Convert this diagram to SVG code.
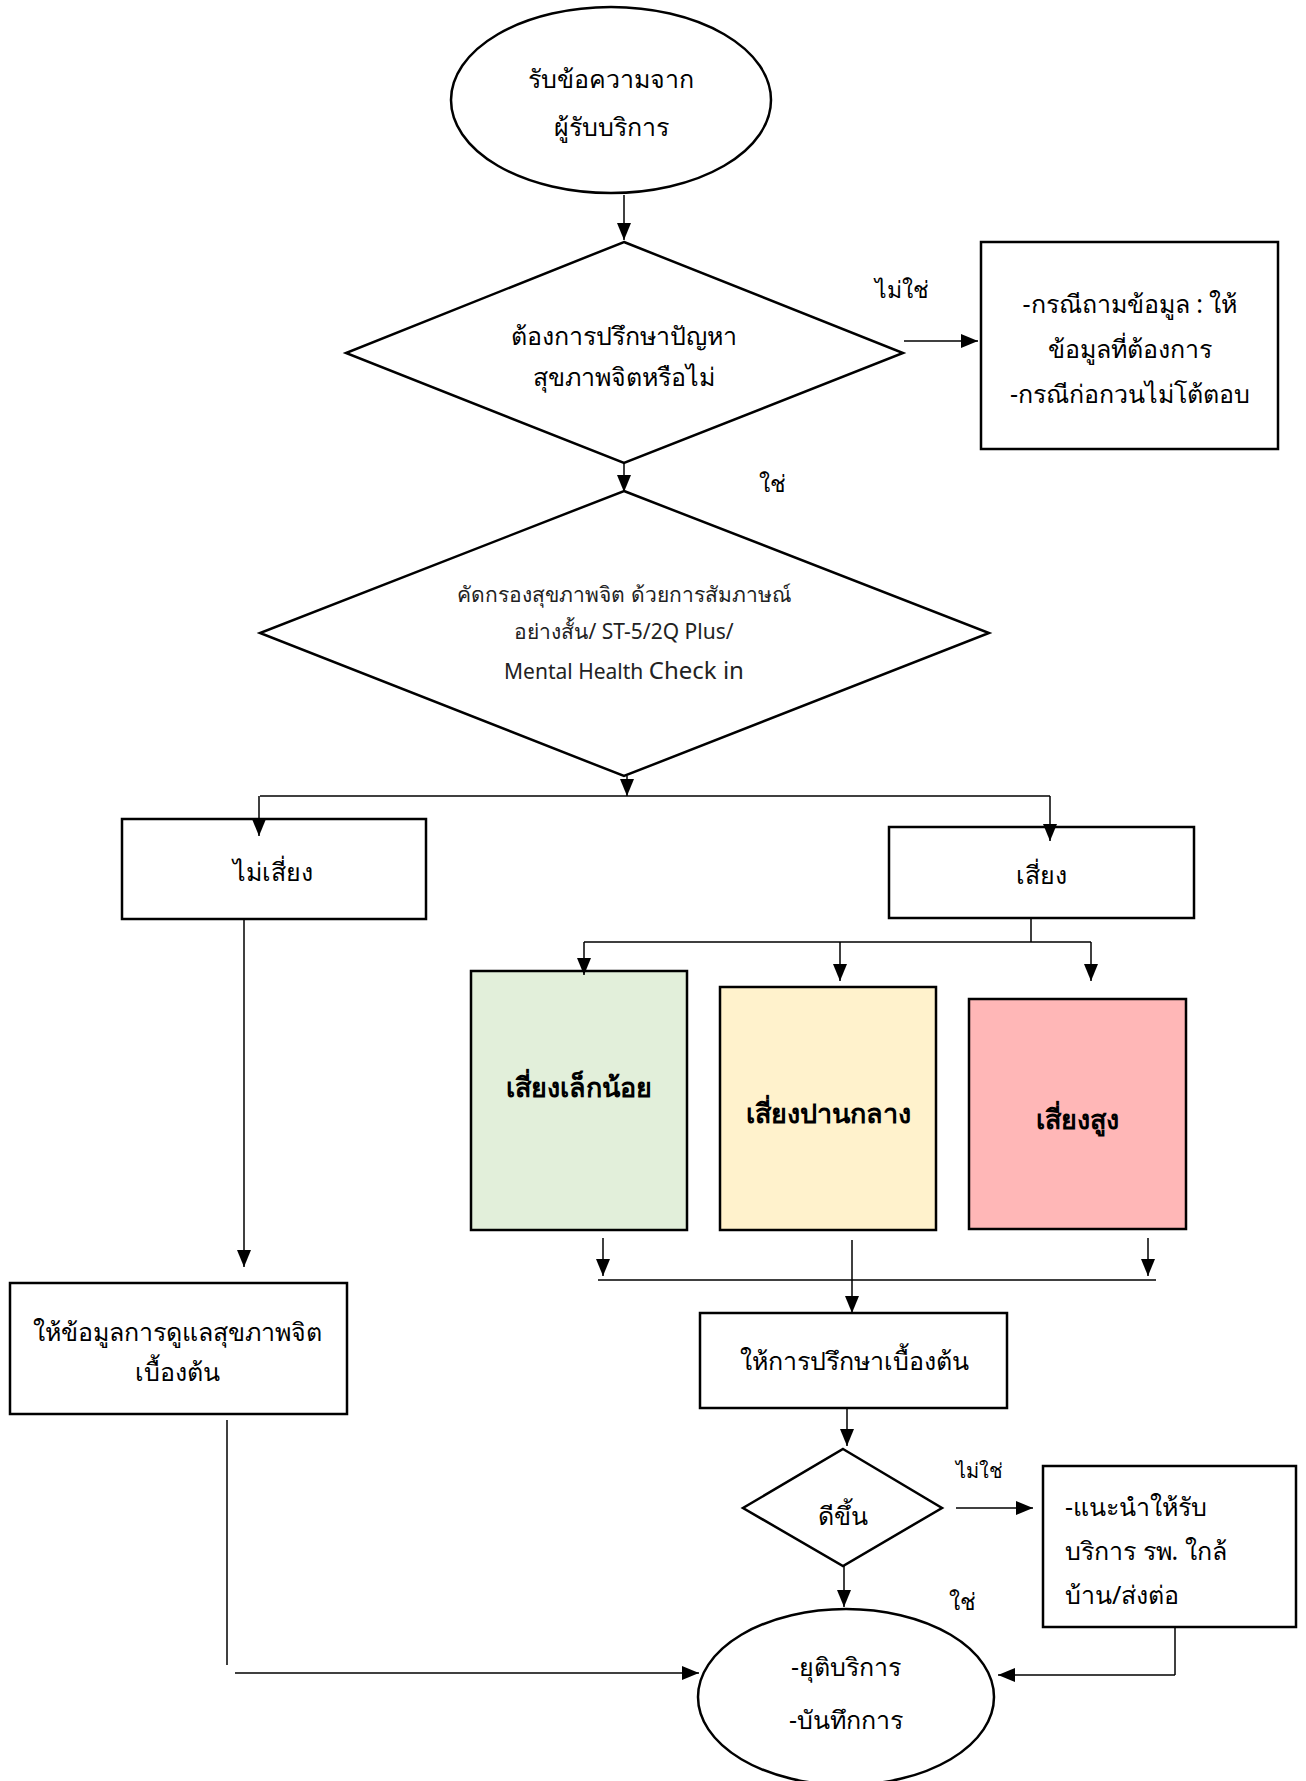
<svg xmlns="http://www.w3.org/2000/svg" width="1306" height="1781" viewBox="0 0 1306 1781">
<defs>
<marker id="ah" markerWidth="17" markerHeight="14" refX="17" refY="7" viewBox="0 0 17 14" orient="auto" markerUnits="userSpaceOnUse">
<path d="M0,0 L17,7 L0,14 Z" fill="#000"/>
</marker>
<style>
.shape{fill:#fff;stroke:#000;stroke-width:2.5}
.ln{fill:none;stroke:#000;stroke-width:1.5}
.arr{fill:none;stroke:#000;stroke-width:1.5;marker-end:url(#ah)}
.t{font-family:"Noto Sans","DejaVu Sans",sans-serif;font-size:25px;fill:#000;text-anchor:middle}
.s{font-family:"Noto Sans","DejaVu Sans",sans-serif;font-size:21px;fill:#222;text-anchor:middle}
.b{font-family:"Noto Sans","DejaVu Sans",sans-serif;font-size:27px;font-weight:bold;fill:#000;text-anchor:middle}
.l{font-family:"Noto Sans","DejaVu Sans",sans-serif;font-size:25px;fill:#000}
.lab{font-family:"Noto Sans","DejaVu Sans",sans-serif;font-size:23px;fill:#000;text-anchor:middle}
</style>
</defs>
<rect width="1306" height="1781" fill="#fff"/>

<g id="start">
<ellipse class="shape" cx="611" cy="100" rx="160" ry="93"/>
<text class="t" x="611" y="88">รับข้อความจาก</text>
<text class="t" x="611" y="136">ผู้รับบริการ</text>
</g>

<g id="decision1">
<polygon class="shape" points="624,242 903,353 624,463 346,353"/>
<text class="t" x="624" y="345">ต้องการปรึกษาปัญหา</text>
<text class="t" x="624" y="386">สุขภาพจิตหรือไม่</text>
</g>

<g id="label-no1"><text class="lab" x="902" y="298">ไม่ใช่</text></g>
<g id="label-yes1"><text class="lab" x="772" y="492">ใช่</text></g>

<g id="info-box">
<rect class="shape" x="981" y="242" width="297" height="207"/>
<text class="t" x="1130" y="313">-กรณีถามข้อมูล : ให้</text>
<text class="t" x="1130" y="358">ข้อมูลที่ต้องการ</text>
<text class="t" x="1130" y="403">-กรณีก่อกวนไม่โต้ตอบ</text>
</g>

<g id="screening">
<polygon class="shape" points="624,491 989,633 624,776 260,633"/>
<text class="s" x="624" y="602">คัดกรองสุขภาพจิต ด้วยการสัมภาษณ์</text>
<text class="s" x="624" y="639">อย่างสั้น/ ST-5/2Q Plus/</text>
<text class="s" x="624" y="679">Mental Health <tspan font-size="24">Check in</tspan></text>
</g>

<g id="no-risk">
<rect class="shape" x="122" y="819" width="304" height="100"/>
<text class="t" x="273" y="881">ไม่เสี่ยง</text>
</g>

<g id="risk">
<rect class="shape" x="889" y="827" width="305" height="91"/>
<text class="t" x="1041" y="884">เสี่ยง</text>
</g>

<g id="low-risk">
<rect class="shape" x="471" y="971" width="216" height="259" style="fill:#e2efda"/>
<text class="b" x="579" y="1097">เสี่ยงเล็กน้อย</text>
</g>

<g id="mid-risk">
<rect class="shape" x="720" y="987" width="216" height="243" style="fill:#fff2cc"/>
<text class="b" x="828" y="1123">เสี่ยงปานกลาง</text>
</g>

<g id="high-risk">
<rect class="shape" x="969" y="999" width="217" height="230" style="fill:#ffb7b7"/>
<text class="b" x="1077" y="1129">เสี่ยงสูง</text>
</g>

<g id="info-care">
<rect class="shape" x="10" y="1283" width="337" height="131"/>
<text class="t" x="177" y="1341">ให้ข้อมูลการดูแลสุขภาพจิต</text>
<text class="t" x="177" y="1381">เบื้องต้น</text>
</g>

<g id="counsel">
<rect class="shape" x="700" y="1313" width="307" height="95"/>
<text class="t" x="854" y="1370">ให้การปรึกษาเบื้องต้น</text>
</g>

<g id="decision2">
<polygon class="shape" points="843,1449 942,1508 843,1566 743,1508"/>
<text class="t" x="843" y="1525">ดีขึ้น</text>
</g>

<g id="label-no2"><text class="lab" x="979" y="1478" style="font-size:20px">ไม่ใช่</text></g>
<g id="label-yes2"><text class="lab" x="962" y="1610">ใช่</text></g>

<g id="refer">
<rect class="shape" x="1043" y="1466" width="253" height="161"/>
<text class="l" x="1065" y="1516">-แนะนำให้รับ</text>
<text class="l" x="1065" y="1560">บริการ รพ. ใกล้</text>
<text class="l" x="1065" y="1604">บ้าน/ส่งต่อ</text>
</g>

<g id="end">
<ellipse class="shape" cx="846" cy="1697" rx="148" ry="88"/>
<text class="t" x="846" y="1676">-ยุติบริการ</text>
<text class="t" x="846" y="1729">-บันทึกการ</text>
</g>

<g id="connectors">
<path class="arr" d="M624,195 V240"/>
<path class="arr" d="M904,341 H978"/>
<path class="arr" d="M624,463 V492"/>
<path class="arr" d="M627,776 V796"/>
<path class="ln" d="M260,796 H1050"/>
<path class="arr" d="M259,796 V836"/>
<path class="arr" d="M1050,796 V841"/>
<path class="ln" d="M1031,918 V942 M584,942 H1091"/>
<path class="arr" d="M584,942 V975"/>
<path class="arr" d="M840,942 V981"/>
<path class="arr" d="M1091,942 V981"/>
<path class="arr" d="M603,1238 V1276"/>
<path class="arr" d="M1148,1238 V1276"/>
<path class="ln" d="M598,1280 H1156"/>
<path class="arr" d="M852,1240 V1313"/>
<path class="arr" d="M244,919 V1267"/>
<path class="arr" d="M847,1408 V1446"/>
<path class="arr" d="M956,1508 H1033"/>
<path class="arr" d="M844,1566 V1607"/>
<path class="ln" d="M227,1420 V1665"/>
<path class="arr" d="M235,1673 H699"/>
<path class="ln" d="M1175,1627 V1675"/>
<path class="arr" d="M1175,1675 H998"/>
</g>
</svg>
